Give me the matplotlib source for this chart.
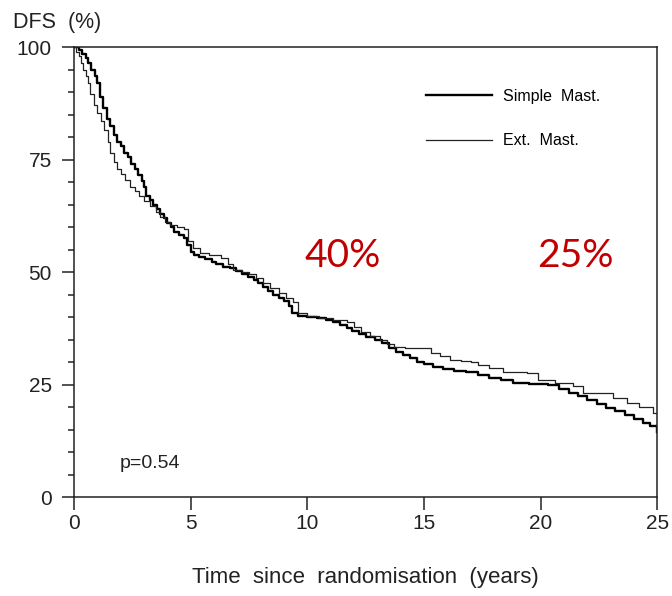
import matplotlib.pyplot as plt
from matplotlib.ticker import MultipleLocator

# Disease-free survival, read as step curves (years, % event-free)
simple_years = [0, 0.2, 0.35, 0.5, 0.6, 0.75, 0.9, 1.0, 1.1, 1.25, 1.4, 1.55, 1.7, 1.85,
                2.0, 2.15, 2.3, 2.45, 2.6, 2.75, 2.9, 3.0, 3.1, 3.25, 3.4, 3.55, 3.7, 3.85,
                4.0, 4.15, 4.3, 4.5, 4.7, 4.85, 5.0, 5.15, 5.35, 5.6, 5.9, 6.1, 6.4, 6.7,
                6.95, 7.2, 7.45, 7.7, 7.9, 8.1, 8.3, 8.55, 8.8, 9.0, 9.2, 9.35, 9.6, 10.0,
                10.4, 10.8, 11.1, 11.4, 11.7, 11.9, 12.2, 12.5, 12.9, 13.2, 13.5, 13.8,
                14.1, 14.4, 14.7, 15.0, 15.4, 15.8, 16.3, 16.8, 17.3, 17.8, 18.3, 18.8,
                19.5, 20.3, 20.8, 21.2, 21.6, 22.0, 22.4, 22.8, 23.2, 23.6, 24.0, 24.4,
                24.7, 25.0]
simple_dfs = [100, 99.3, 98.5, 97.5, 96.5, 95, 93.5, 92, 89, 86.5, 84, 82.5, 80.5, 79,
              78, 76.5, 75.5, 74, 73, 71.5, 70.3, 69, 67, 66, 65, 64, 63, 62,
              61, 60, 59, 58.3, 57.5, 56, 54.5, 53.8, 53.3, 52.8, 52.2, 51.8, 51.2, 50.8,
              50.2, 49.6, 49, 48.2, 47.5, 46.6, 45.8, 45, 44.2, 43.5, 42.5, 41, 40.3, 40,
              39.7, 39.3, 39, 38.3, 37.5, 37, 36.2, 35.5, 34.8, 34.2, 33.2, 32.2,
              31.5, 30.8, 30.0, 29.6, 28.9, 28.4, 28.1, 27.7, 27.2, 26.5, 26.0, 25.4,
              25.1, 24.8, 24.0, 23.2, 22.4, 21.6, 20.6, 19.8, 19.2, 18.2, 17.4, 16.5,
              15.7, 14.4]

ext_years = [0, 0.1, 0.2, 0.3, 0.4, 0.5, 0.6, 0.7, 0.85, 1.0, 1.15, 1.3, 1.45, 1.55, 1.7,
             1.85, 2.0, 2.2, 2.4, 2.6, 2.8, 3.0, 3.25, 3.5, 3.7, 3.9, 4.1, 4.4, 4.7, 4.9,
             5.1, 5.4, 5.8, 6.3, 6.6, 6.8, 7.2, 7.5, 7.8, 8.1, 8.4, 8.8, 9.1, 9.4, 9.6,
             10.0, 10.5, 11.1, 11.7, 12.0, 12.3, 12.7, 13.1, 13.4, 13.7, 14.2, 14.8,
             15.3, 15.7, 16.1, 16.6, 17.0, 17.3, 17.8, 18.4, 19.4, 19.9, 20.6, 21.4,
             21.8, 23.1, 23.7, 24.2, 24.8, 25.0]
ext_dfs = [100, 99, 98, 96.5, 95, 93.5, 92, 89.5, 87.2, 85.3, 83.5, 81.5, 79, 76.5, 74.5,
           73, 71.8, 70.5, 69, 68, 66.8, 65.8, 64.6, 63.4, 62.2, 61.2, 60.4, 60, 59.6, 57,
           55.3, 54.3, 53.8, 53.1, 51.8, 50.4, 50, 49.6, 48.7, 47.6, 46.5, 45.3, 44.3, 43.3, 40.9,
           40.3, 39.8, 39.3, 38.9, 37.8, 36.7, 35.8, 34.9, 34.1, 33.3, 33.2, 33.1,
           32.0, 31.3, 30.4, 30.2, 30.0, 29.3, 28.6, 27.8, 27.6, 26.0, 25.4, 24.7,
           23.1, 22.0, 20.9, 20.0, 18.7, 18.7]

x_ticks = [0, 5, 10, 15, 20, 25]
y_ticks = [0, 25, 50, 75, 100]
annotations = [(11.5, "40%"), (21.5, "25%")]

plt.rcParams['font.family'] = ['Liberation Sans', 'DejaVu Sans']

fig = plt.figure(figsize=(6.72, 5.96), dpi=100)
ax = fig.add_axes([0.110, 0.166, 0.868, 0.755])

ax.plot(simple_years, simple_dfs, drawstyle='steps-post', color='black', lw=1.7,
        label='Simple  Mast.')
ax.plot(ext_years, ext_dfs, drawstyle='steps-post', color='#222222', lw=0.9,
        label='Ext.  Mast.')

ax.set_xlim(0, 25)
ax.set_ylim(0, 100)
ax.set_xticks(x_ticks)
ax.set_yticks(y_ticks)
ax.yaxis.set_minor_locator(MultipleLocator(5))
ax.tick_params(axis='both', which='major', direction='out', length=9, width=1.1,
               labelsize=15, colors='#222222')
ax.tick_params(axis='y', which='major', pad=7)
ax.tick_params(axis='x', which='major', pad=3)
ax.tick_params(axis='y', which='minor', direction='out', length=4.5, width=1.1,
               colors='#222222')
for sp in ax.spines.values():
    sp.set_linewidth(1.1)
    sp.set_color('#222222')

ax.set_xlabel('Time  since  randomisation  (years)', fontsize=16, labelpad=25,
              color='#222222')
fig.text(0.02, 0.962, 'DFS  (%)', fontsize=15.5, color='#222222', va='center')

for xpos, txt in annotations:
    ax.text(xpos, 53.5, txt, fontsize=28, color='#C00000', ha='center', va='center',
            family=['Lato', 'DejaVu Sans'])

ax.text(1.97, 7.5, 'p=0.54', fontsize=14, color='#222222', va='center')

ax.legend(loc='upper left', bbox_to_anchor=(0.59, 0.925), frameon=False, fontsize=11.5,
          handlelength=4.1, handletextpad=0.7, labelspacing=1.85, borderpad=0)

fig.savefig('out.png', dpi=100, facecolor='white')
